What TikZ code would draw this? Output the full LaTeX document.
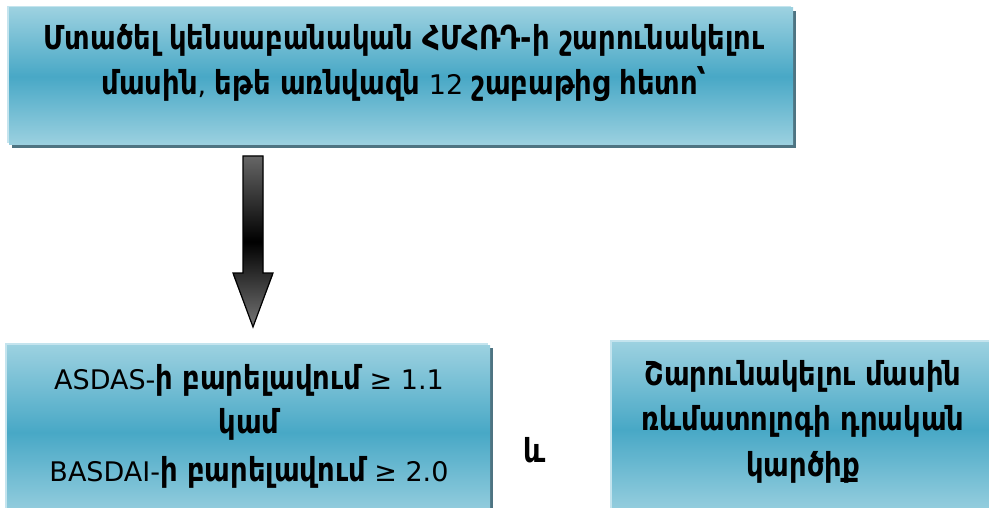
\documentclass[tikz,border=0pt]{standalone}
\usepackage{fontspec}
\setmainfont{DejaVu Sans}
\newfontfamily\armbold{DejaVu Sans Bold}[FakeStretch=0.83]
\usetikzlibrary{shadows}
\definecolor{boxlight}{HTML}{9CD1E0}
\definecolor{boxmid}{HTML}{48A8C6}
\definecolor{boxrim}{HTML}{C4E4EE}
\definecolor{boxshadow}{HTML}{4E7482}
\definecolor{arrowgray}{HTML}{666666}
% Armenian words: bold, slightly condensed and larger
\newcommand{\hy}[1]{{\fontsize{33}{40}\armbold #1}}
\begin{document}
\begin{tikzpicture}[x=1pt,y=-1pt,
  panel/.style={anchor=north west, inner sep=0pt, outer sep=0pt,
    top color=boxlight, bottom color=boxlight, middle color=boxmid,
    general shadow={shadow xshift=-2pt, shadow yshift=2pt, fill=boxrim},
    general shadow={shadow xshift=3pt, shadow yshift=-3pt, fill=boxshadow}},
  txt/.style={anchor=base, inner sep=0pt, font=\fontsize{27}{32}\selectfont}]
\useasboundingbox (0,0) rectangle (989,508);

% boxes
\node[panel, minimum width=784pt, minimum height=137pt] (cond) at (9,8) {};
\node[panel, minimum width=483pt, minimum height=175pt] (score) at (7,345) {};
\node[panel, minimum width=390pt, minimum height=175pt] (opinion) at (612,342) {};

% heading text
\node[txt] (c1) at (404,50) {\hy{Մտածել կենսաբանական ՀՄՀՌԴ-ի շարունակելու}};
\node[txt] (c2) at (404,95) {\hy{մասին}, \hy{եթե առնվազն} 12 \hy{շաբաթից հետո՝}};

% score criteria
\node[txt] (s1) at (249,389) {ASDAS-\hy{ի բարելավում} ≥ 1.1};
\node[txt] (s2) at (249,433) {\hy{կամ}};
\node[txt] (s3) at (249,481) {BASDAI-\hy{ի բարելավում} ≥ 2.0};

% rheumatologist opinion
\node[txt] (o1) at (803,385) {\hy{Շարունակելու մասին}};
\node[txt] (o2) at (803,430) {\hy{ռևմատոլոգի դրական}};
\node[txt] (o3) at (803,476) {\hy{կարծիք}};

% conjunction
\node[txt] (and) at (535,462) {\hy{և}};

% block arrow between heading and criteria
\coordinate (atop) at (253,156);
\coordinate (atip) at (253,327);
\fill[black!45, xshift=2pt, yshift=-2pt]
  ([xshift=-10pt]atop) -- ([xshift=10pt]atop) -- ([xshift=10pt]atop |- 0,273)
  -- ([xshift=20pt]atop |- 0,273) -- (atip) -- ([xshift=-20pt]atop |- 0,273)
  -- ([xshift=-10pt]atop |- 0,273) -- cycle;
\draw[black, line width=1.2pt, top color=arrowgray, bottom color=arrowgray!90, middle color=black, line join=miter]
  ([xshift=-10pt]atop) -- ([xshift=10pt]atop) -- ([xshift=10pt]atop |- 0,273)
  -- ([xshift=20pt]atop |- 0,273) -- (atip) -- ([xshift=-20pt]atop |- 0,273)
  -- ([xshift=-10pt]atop |- 0,273) -- cycle;
\end{tikzpicture}
\end{document}
